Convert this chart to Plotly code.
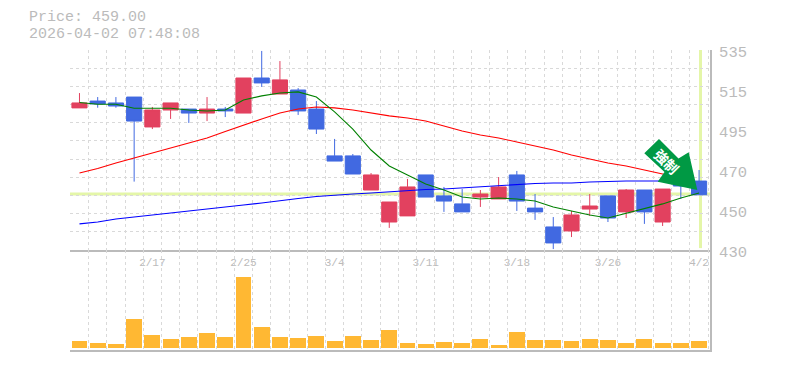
import plotly.graph_objects as go

# Values
idx = list(range(35))
opens = [504.6,508.2,507.2,510.3,494.6,503.5,504.0,501.9,504.0,501.9,520.3,511.9,514.0,504.0,479.4,479.4,461.5,444.7,447.9,469.4,458.4,454.2,457.8,456.8,469.4,452.0,442.1,440.0,451.5,458.4,450.0,461.5,444.7,466.8,466.2]
closes = [507.2,506.7,505.6,497.7,503.5,507.2,501.9,504.0,503.0,520.3,517.7,519.3,503.0,493.5,476.7,469.9,469.4,455.2,463.1,457.8,455.7,450.0,459.4,463.1,455.7,450.0,433.7,448.4,453.1,446.8,461.5,450.0,462.0,463.6,459.0]
highs = [512.4,510.3,510.3,510.3,505.1,507.2,504.0,510.3,505.1,520.3,534.5,529.2,515.0,508.2,488.3,480.4,470.4,455.2,467.3,469.4,463.1,462.0,461.5,468.3,471.5,459.4,447.3,450.5,459.4,458.4,462.0,461.5,462.0,466.8,472.0]
lows = [504.6,504.7,504.7,465.9,493.5,498.8,496.7,497.7,499.8,501.9,515.6,511.9,500.9,490.9,476.7,469.9,461.5,441.6,447.9,457.8,450.0,450.0,452.6,456.8,450.5,445.8,430.5,436.8,447.9,444.7,446.8,443.7,442.6,456.8,459.0]
ma_short = [507.4,506.5,506.5,504.4,504.4,504.4,503.5,503.0,503.5,508.75,510.9,512.4,513.0,510.3,502.5,493.5,482.5,474.1,469.4,464.7,461.5,457.8,456.8,457.3,456.8,455.7,452.6,450.5,448.4,446.8,449.4,452.0,454.2,457.3,459.9]
ma_mid = [470.4,472.8,475.7,478.3,480.9,483.6,486.2,488.8,492.2,495.6,498.8,501.9,504.0,505.1,504.6,503.5,501.9,500.4,499.3,497.7,495.1,492.5,490.4,488.8,486.7,484.6,482.5,479.9,477.8,475.7,474.1,472.0,469.9,467.8,None]
ma_long = [443.7,444.7,446.3,447.3,448.4,449.4,450.5,451.5,452.6,453.6,454.7,455.7,457.0,458.1,458.9,459.4,459.9,460.5,461.0,461.8,462.0,462.6,463.1,463.6,464.4,464.9,465.2,465.2,465.7,466.0,466.2,466.2,466.2,466.2,None]
volume = [7,5,4,29,13,9,11,15,11,71,21,11,10,12,7,12,8,18,5,4,6,5,9,3,16,8,8,7,9,8,5,9,5,5,7]
price_band = 459.4
x_tick_pos = [4,9,14,19,24,29,34]
x_tick_txt = ["2/17","2/25","3/4","3/11","3/18","3/26","4/2"]
y_tick_pos = [535,514,493,472,451,430]
y_tick_txt = ["535","515","495","470","450","430"]
y_grid = [430+k*105/11 for k in range(12)]
x_grid = [k-0.5 for k in range(36)]

GREY = "#bbbbbb"; GRID = "#d9d9d9"; BAND = "#e4f6a8"
RED = "#e2415f"; BLUE = "#4169e1"; VOL = "#ffb833"; ARROW = "#009944"
MONO = "Liberation Mono"

def px(x, y):
    return (x-70)/640, (350-y)/300

fig = go.Figure()
fig.add_trace(go.Bar(x=idx, y=volume, width=0.87, marker=dict(color=VOL, line_width=0),
                     xaxis="x2", yaxis="y2", hoverinfo="skip", showlegend=False))
for vals, col in ((ma_long, "#0000ff"), (ma_mid, "#ff0000"), (ma_short, "#008000")):
    fig.add_trace(go.Scatter(x=idx, y=vals, mode="lines", line=dict(color=col, width=1.1),
                             hoverinfo="skip", showlegend=False))
fig.add_trace(go.Candlestick(x=idx, open=opens, high=highs, low=lows, close=closes,
                             increasing=dict(line=dict(color=RED, width=1), fillcolor=RED),
                             decreasing=dict(line=dict(color=BLUE, width=1), fillcolor=BLUE),
                             whiskerwidth=0, hoverinfo="skip", showlegend=False))

common_x = dict(range=[-0.52, 34.6], showgrid=False, zeroline=False, ticks="", automargin=False,
                showline=True, linecolor=GREY, linewidth=2,
                minor=dict(tickmode="array", tickvals=x_grid, showgrid=True, gridcolor=GRID,
                           griddash="3px,3px", gridwidth=1, ticks=""),
                rangeslider=dict(visible=False))
arrow = [(659,139),(678.5,158.5),(688.7,152.3),(697.3,190),(657.7,181.7),(664.5,172),(644.3,153.3)]
pth = "M " + " L ".join("%.5f %.5f" % px(*p) for p in arrow) + " Z"
shapes = [
    dict(type="line", xref="x", yref="y", x0=-0.52, x1=34.6, y0=price_band, y1=price_band,
         line=dict(color=BAND, width=3), layer="below"),
    dict(type="line", xref="x", yref="y", x0=34.08, x1=34.08, y0=431, y1=535,
         line=dict(color=BAND, width=3), layer="below"),
    dict(type="path", xref="paper", yref="paper", path=pth, fillcolor=ARROW, line_width=0, layer="above"),
]
ann = [
    dict(text="Price: 459.00", xref="paper", yref="paper", x=px(28,0)[0], y=px(0,18)[1], xanchor="left", yanchor="middle",
         showarrow=False, borderpad=0, font=dict(family=MONO, size=15, color=GREY)),
    dict(text="2026-04-02 07:48:08", xref="paper", yref="paper", x=px(28,0)[0], y=px(0,35)[1], xanchor="left", yanchor="middle",
         showarrow=False, borderpad=0, font=dict(family=MONO, size=15, color=GREY)),
    dict(text="<b>強制</b>", xref="paper", yref="paper", x=px(666.5,0)[0], y=px(0,161)[1], xanchor="center", yanchor="middle",
         textangle=45, showarrow=False, font=dict(family="Noto Sans CJK JP", size=14, color="white")),
]
fig.update_layout(
    width=785, height=370, autosize=False, margin=dict(l=70, r=75, t=50, b=20, pad=0, autoexpand=False),
    paper_bgcolor="white", plot_bgcolor="white", showlegend=False, boxgap=0.17, boxgroupgap=0, bargap=0,
    shapes=shapes, annotations=ann,
    xaxis=dict(domain=[0,1], anchor="y", tickmode="array", tickvals=x_tick_pos, ticktext=x_tick_txt,
               tickfont=dict(family=MONO, size=11, color=GREY), ticklabelstandoff=1, **common_x),
    xaxis2=dict(domain=[0,1], anchor="y2", matches="x", showticklabels=False, **common_x),
    yaxis=dict(domain=[1/3,1], anchor="x", range=[430,535], side="right", tickmode="array", automargin=False,
               tickvals=y_tick_pos, ticktext=y_tick_txt, showgrid=False, zeroline=False, ticks="",
               tickfont=dict(family=MONO, size=15.5, color=GREY), ticklabelstandoff=4, ticklabelshift=2,
               showline=True, linecolor=GREY, linewidth=2,
               minor=dict(tickmode="array", tickvals=y_grid, showgrid=True, gridcolor=GRID,
                          griddash="3px,3px", gridwidth=1, ticks="")),
    yaxis2=dict(domain=[0,1/3], anchor="x2", range=[-2,98], side="right", showticklabels=False, showgrid=False,
                zeroline=False, ticks="", showline=True, linecolor=GREY, linewidth=2, automargin=False),
)
fig.write_html("out.html", config=dict(displayModeBar=False),
               post_script="document.body.style.margin='0';")
